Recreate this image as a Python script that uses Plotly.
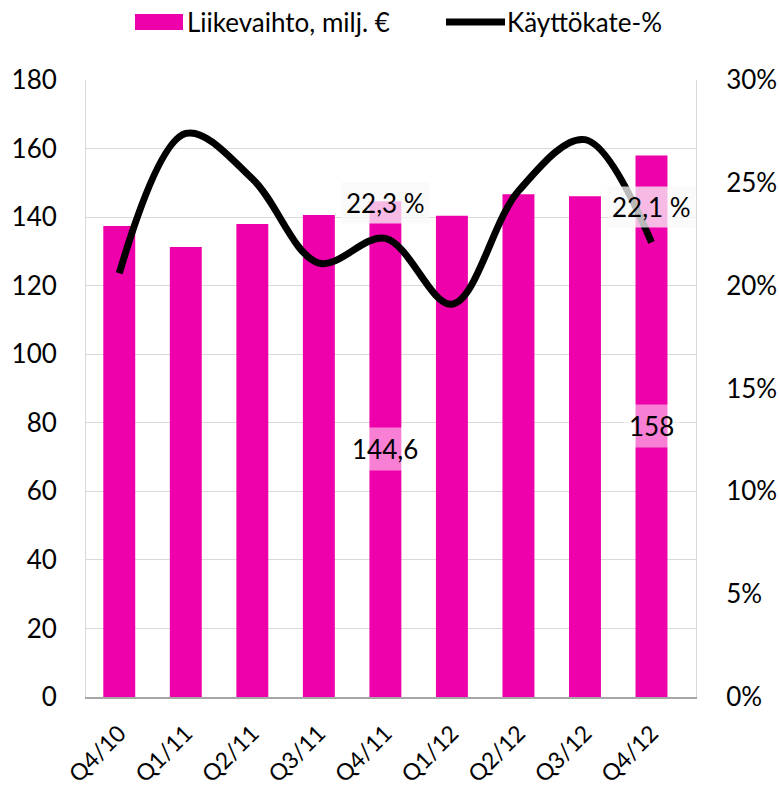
import plotly.graph_objects as go

categories = ["Q4/10", "Q1/11", "Q2/11", "Q3/11", "Q4/11", "Q1/12", "Q2/12", "Q3/12", "Q4/12"]
revenue = [137.4, 131.3, 138.0, 140.6, 144.6, 140.4, 146.7, 146.1, 158.0]
ebitda_pct = [20.6, 27.4, 25.2, 21.1, 22.3, 19.1, 24.6, 27.1, 22.1]
revenue_labels = {"Q4/11": "144,6", "Q4/12": "158"}
pct_labels = {"Q4/11": "22,3 %", "Q4/12": "22,1 %"}
series_names = ["Liikevaihto, milj. €", "Käyttökate-%"]

MAGENTA = "#EE00AA"
FONT = "Lato, Calibri, 'Noto Sans', sans-serif"
FS = 26

W, H = 779, 788
L, T = 86, 80
PW, PH = 610, 617
R, B = W - L - PW, H - T - PH


def px(x):
    return (x - L) / PW


def py(y):
    return (T + PH - y) / PH


fig = go.Figure()
fig.add_trace(go.Bar(x=categories, y=revenue, name=series_names[0],
                     marker=dict(color=MAGENTA, line=dict(width=0)), yaxis="y"))
fig.add_trace(go.Scatter(x=categories, y=ebitda_pct, name=series_names[1], mode="lines",
                         line=dict(color="black", width=7, shape="spline", smoothing=1.0),
                         yaxis="y2"))

for cat, txt in revenue_labels.items():
    v = revenue[categories.index(cat)]
    fig.add_annotation(x=cat, y=v / 2, xref="x", yref="y", text=txt, showarrow=False,
                       font=dict(size=FS, color="black", family=FONT),
                       bgcolor="rgba(255,255,255,0.5)", borderpad=5)
for cat, txt in pct_labels.items():
    v = ebitda_pct[categories.index(cat)]
    fig.add_annotation(x=cat, y=v, xref="x", yref="y2", text=txt, showarrow=False,
                       yshift=35, font=dict(size=FS, color="black", family=FONT),
                       bgcolor="rgba(248,248,248,0.75)", borderpad=4)

# custom legend (matching the wide swatches of the original)
fig.add_shape(type="rect", xref="paper", yref="paper",
              x0=px(135), x1=px(183), y0=py(30), y1=py(14),
              fillcolor=MAGENTA, line=dict(width=0))
fig.add_annotation(xref="paper", yref="paper", x=px(185), y=py(22), xanchor="left",
                   yanchor="middle", text=series_names[0], showarrow=False,
                   font=dict(size=FS, color="black", family=FONT))
fig.add_shape(type="line", xref="paper", yref="paper",
              x0=px(446), x1=px(505), y0=py(22), y1=py(22),
              line=dict(color="black", width=7))
fig.add_annotation(xref="paper", yref="paper", x=px(505), y=py(22), xanchor="left",
                   yanchor="middle", text=series_names[1], showarrow=False,
                   font=dict(size=FS, color="black", family=FONT))

fig.update_layout(
    width=W, height=H,
    margin=dict(l=L, r=R, t=T, b=B, autoexpand=False),
    paper_bgcolor="white", plot_bgcolor="white",
    font=dict(family=FONT, size=FS, color="black"),
    bargap=0.52,
    showlegend=False,
    xaxis=dict(tickangle=-45, showline=True, linecolor="#A6A6A6", linewidth=1.5,
               showgrid=False, ticks="", tickfont=dict(size=23), automargin=False,
               ticklabelstandoff=12),
    yaxis=dict(range=[0, 180], dtick=20, showgrid=True, gridcolor="#D9D9D9",
               showline=True, linecolor="#D9D9D9", zeroline=False, ticks="",
               tickfont=dict(size=FS), automargin=False, ticklabelstandoff=23),
    yaxis2=dict(range=[0, 30], dtick=5, overlaying="y", side="right", ticksuffix="%",
                showgrid=False, showline=True, linecolor="#D9D9D9", zeroline=False,
                ticks="", tickfont=dict(size=FS), automargin=False, ticklabelstandoff=24),
)

fig.write_html("out.html", config={"displayModeBar": False},
               post_script="document.body.style.margin='0';document.body.style.overflow='hidden';")
